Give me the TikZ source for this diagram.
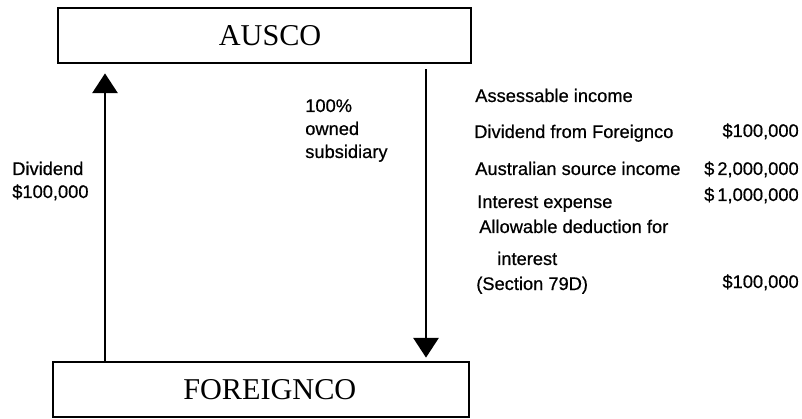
\documentclass[tikz,border=0pt]{standalone}
\usepackage{fontspec}
\setmainfont{Liberation Serif}
\newfontfamily\smallsans[FakeBold=0.6]{Liberation Sans}
\usetikzlibrary{arrows.meta}

\begin{document}
\begin{tikzpicture}[x=0.025cm,y=-0.025cm]
      \tikzstyle{company}=[draw,line width=2pt,minimum height=1.375cm,
			      inner sep=0pt]
      \tikzstyle{boxname}=[font=\fontsize{21.5}{24}\selectfont]
      \tikzstyle{txt}=[inner sep=0pt,font=\smallsans\fontsize{13}{15}\selectfont]
      \tikzstyle{flow}=[line width=1.2pt,-{Triangle[width=18pt,length=14pt]}]
      \useasboundingbox (0,0) rectangle (802,419);
      % the two companies
      \node (ausco) [company,minimum width=10.325cm,
          label={[boxname,xshift=0.14cm]center:AUSCO}] at (264.5,35.5) {};
      \node (foreignco) [company,minimum width=10.4cm,
          label={[boxname,xshift=0.22cm]center:FOREIGNCO}] at (261,389.5) {};
      \coordinate (divline) at (105,0);
      \coordinate (ownline) at (426,0);
      \draw[flow,shorten >=9*0.025cm] (foreignco.north -| divline) -- (ausco.south -| divline);
      \draw[flow,shorten <=5*0.025cm,shorten >=3*0.025cm] (ausco.south -| ownline) -- (foreignco.north -| ownline);
      % labels of the arrows
      \node (div1) [txt,anchor=base west] at (12,175) {Dividend};
      \node (div2) [txt,anchor=base west] at (12,198) {\$100,000};
      \node (own1) [txt,anchor=base west] at (305,112) {100\%};
      \node (own2) [txt,anchor=base west] at (305,135) {owned};
      \node (own3) [txt,anchor=base west] at (305,158) {subsidiary};
      % the tax account
      \node (assess) [txt,anchor=base west] at (475,102) {Assessable income};
      \node (dividend) [txt,anchor=base west] at (474,138) {Dividend from Foreignco};
      \node (dividendamt) [txt,anchor=base east] at (799,137) {\$100,000};
      \node (source) [txt,anchor=base west] at (475,175) {Australian source income};
      \node (sourceamt) [txt,anchor=base east] at (799,175) {\$\,2,000,000};
      \node (interest) [txt,anchor=base west] at (477,208) {Interest expense};
      \node (interestamt) [txt,anchor=base east] at (799,201) {\$\,1,000,000};
      \node (allow1) [txt,anchor=base west] at (479,233) {Allowable deduction for};
      \node (allow2) [txt,anchor=base west] at (497,265) {interest};
      \node (allow3) [txt,anchor=base west] at (476,290) {(Section 79D)};
      \node (allowamt) [txt,anchor=base east] at (799,288) {\$100,000};
  \end{tikzpicture}
\end{document}
